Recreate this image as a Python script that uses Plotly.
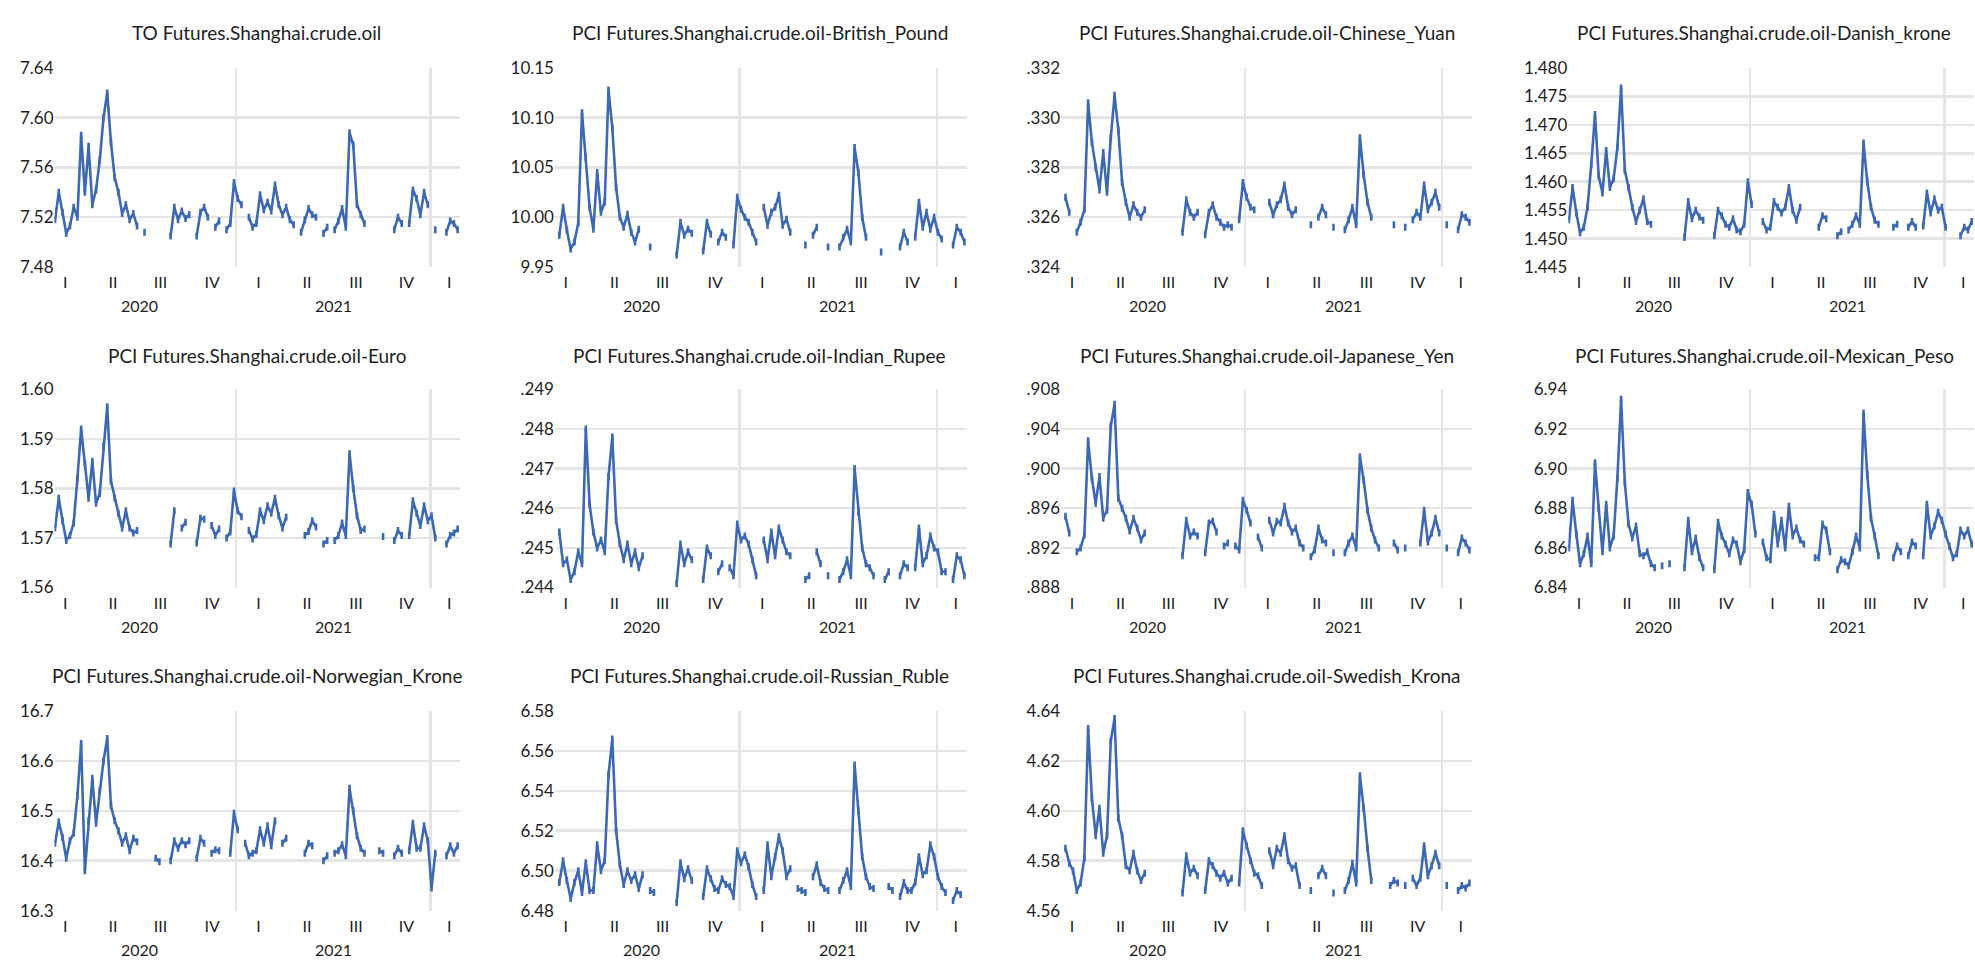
import pandas as pd
import plotly.graph_objects as go

N = None
dates = pd.date_range("2020-01-27", periods=109, freq="7D").strftime("%Y-%m-%d").tolist()

quarter_ticks = ["2020-02-15", "2020-05-15", "2020-08-12", "2020-11-17",
                 "2021-02-12", "2021-05-14", "2021-08-14", "2021-11-17", "2022-02-05"]
quarter_labels = ["I", "II", "III", "IV", "I", "II", "III", "IV", "I"]
year_bounds = ["2021-01-01", "2022-01-01"]
year_labels = ["2020", "2021"]
year_label_pos = ["2020-07-04", "2021-07-02"]

to_cny = [7.518, 7.540, 7.524, 7.507, 7.513, 7.528, 7.520, 7.586, 7.540, 7.577,
          7.530, 7.542, 7.566, 7.600, 7.620, 7.580, 7.552, 7.540, 7.523, 7.530,
          7.518, 7.523, 7.513, N, 7.508, N, N, N, N, N,
          N, 7.505, 7.528, 7.518, 7.525, 7.519, 7.522, N, 7.505, 7.524,
          7.528, 7.520, N, 7.512, 7.517, N, 7.510, 7.515, 7.548, 7.535,
          7.530, N, 7.520, 7.512, 7.515, 7.538, 7.526, 7.532, 7.525, 7.546,
          7.530, 7.522, 7.528, 7.518, 7.514, N, 7.508, 7.518, 7.527, 7.522,
          7.520, N, 7.507, 7.512, N, 7.510, 7.517, 7.527, 7.512, 7.588,
          7.578, 7.530, 7.522, 7.515, N, N, N, N, N, N,
          N, 7.510, 7.520, 7.515, N, 7.515, 7.542, 7.535, 7.522, 7.540,
          7.530, N, 7.510, N, N, 7.508, 7.517, 7.515, 7.510]

gbp = [N, 9.982, 10.010, 9.987, 9.968, 9.975, 9.994, 10.105, 10.060, 10.010,
       9.988, 10.045, 10.005, 10.015, 10.128, 10.090, 10.030, 10.000, 9.990, 10.003,
       9.985, 9.975, 9.988, N, N, 9.970, N, N, N, N,
       N, N, 9.962, 9.995, 9.982, 9.988, 9.984, N, N, 9.966,
       9.995, 9.983, N, 9.975, 9.985, 9.980, N, 9.972, 10.020, 10.008,
       10.000, 9.995, 9.985, 9.975, N, 10.010, 9.992, 10.005, 10.010, 10.022,
       9.992, 9.998, 9.985, N, N, N, 9.972, N, 9.982, 9.990,
       N, N, 9.970, N, N, 9.970, 9.980, 9.988, 9.975, 10.070,
       10.045, 10.000, 9.980, N, N, N, 9.965, N, N, N,
       N, 9.970, 9.985, 9.975, N, 9.980, 10.015, 9.990, 10.005, 9.988,
       10.000, 9.985, 9.978, N, N, 9.972, 9.990, 9.985, 9.975]

cny = [N, .3268, .3262, N, .3254, .3258, .3263, .3306, .3290, .3280,
       .3271, .3286, .3270, .3292, .3309, .3295, .3274, .3266, .3260, .3265,
       .3262, .3260, .3263, N, N, N, N, N, N, N,
       N, N, .3254, .3267, .3262, .3260, .3262, N, .3253, .3262,
       .3265, .3260, .3258, .3256, .3257, .3256, N, .3259, .3274, .3268,
       .3264, .3263, N, N, N, .3266, .3261, .3265, .3267, .3273,
       .3264, .3261, .3263, N, N, N, .3257, N, .3260, .3264,
       .3261, N, .3256, N, N, .3255, .3259, .3264, .3257, .3292,
       .3277, .3266, .3260, N, N, N, N, N, .3257, N,
       N, .3256, N, .3259, .3262, .3260, .3273, .3263, .3266, .3270,
       .3264, N, .3257, N, N, .3255, .3261, .3260, .3258]

dkk = [1.4533, 1.4590, 1.4545, 1.4510, 1.4520, 1.4555, 1.4630, 1.4718, 1.4610, 1.4580,
       1.4655, 1.4590, 1.4605, 1.4660, 1.4765, 1.4620, 1.4590, 1.4555, 1.4530, 1.4550,
       1.4570, 1.4530, 1.4525, N, N, N, N, N, N, N,
       N, 1.4502, 1.4565, 1.4535, 1.4550, 1.4538, 1.4532, N, N, 1.4505,
       1.4550, 1.4540, 1.4525, 1.4520, 1.4535, 1.4515, 1.4512, 1.4525, 1.4600, 1.4560,
       N, N, 1.4530, 1.4515, 1.4520, 1.4565, 1.4555, 1.4545, 1.4555, 1.4590,
       1.4550, 1.4532, 1.4555, N, N, N, N, 1.4520, 1.4540, 1.4535,
       N, N, 1.4505, 1.4512, N, 1.4515, 1.4525, 1.4540, 1.4525, 1.4668,
       1.4600, 1.4555, 1.4532, 1.4525, N, N, N, 1.4520, 1.4525, N,
       N, 1.4520, 1.4530, 1.4520, N, 1.4522, 1.4580, 1.4545, 1.4570, 1.4550,
       1.4555, 1.4520, N, N, N, 1.4505, 1.4520, 1.4515, 1.4530]

eur = [1.5720, 1.5780, 1.5735, 1.5695, 1.5705, 1.5730, 1.5820, 1.5920, 1.5850, 1.5780,
       1.5855, 1.5770, 1.5790, 1.5885, 1.5965, 1.5815, 1.5780, 1.5750, 1.5720, 1.5755,
       1.5720, 1.5710, 1.5715, N, N, N, N, N, N, N,
       N, 1.5688, 1.5755, N, 1.5720, 1.5732, N, N, 1.5690, 1.5740,
       1.5738, N, 1.5725, 1.5705, 1.5718, N, 1.5700, 1.5712, 1.5795, 1.5755,
       1.5743, N, 1.5715, 1.5698, 1.5707, 1.5755, 1.5735, 1.5765, 1.5750, 1.5780,
       1.5745, 1.5720, 1.5742, N, N, N, N, 1.5705, 1.5713, 1.5735,
       1.5722, N, 1.5688, 1.5695, N, 1.5695, 1.5705, 1.5730, 1.5705, 1.5870,
       1.5800, 1.5745, 1.5715, 1.5718, N, N, N, N, 1.5703, N,
       N, 1.5695, 1.5715, 1.5705, N, 1.5705, 1.5775, 1.5750, 1.5725, 1.5765,
       1.5735, 1.5745, 1.5700, N, N, 1.5688, 1.5705, 1.5710, 1.5718]

inr = [N, .2454, .2446, .2447, .2442, .2444, .2449, .2446, .2480, .2461,
       .2454, .2450, .2452, .2449, .2468, .2478, .2457, .2451, .2447, .2451,
       .2446, .2449, .2445, .2448, N, N, N, N, N, N,
       N, N, .2441, .2451, .2446, .2449, .2447, N, N, .2442,
       .2450, .2448, N, .2444, .2446, N, .2445, .2443, .2456, .2452,
       .2453, .2451, .2447, .2443, N, .2452, .2447, .2454, .2448, .2455,
       .2452, .2449, .2448, N, N, N, .2442, .2443, N, .2449,
       .2446, N, .2443, N, N, .2442, .2444, .2447, .2443, .2470,
       .2459, .2450, .2446, .2445, .2443, N, N, .2442, .2444, N,
       N, .2443, .2446, .2445, N, .2445, .2455, .2446, .2448, .2453,
       .2450, .2449, .2444, .2444, N, .2442, .2448, .2447, .2443]

jpy = [N, .8952, .8935, N, .8916, .8920, .8933, .9028, .8990, .8965,
       .8992, .8950, .8958, .9043, .9065, .8970, .8960, .8950, .8937, .8950,
       .8940, .8928, .8935, N, N, N, N, N, N, N,
       N, N, .8912, .8948, .8932, .8936, .8932, N, .8915, .8945,
       .8947, .8936, N, .8922, .8925, N, .8922, .8918, .8968, .8958,
       .8945, N, .8931, .8920, N, .8948, .8935, .8947, .8945, .8962,
       .8945, .8936, .8940, .8925, .8920, N, .8911, .8918, .8940, .8928,
       .8925, N, .8915, N, N, .8915, .8925, .8932, .8920, .9012,
       .8988, .8958, .8940, .8928, .8920, N, N, N, .8925, .8918,
       N, .8920, N, N, N, .8925, .8958, .8926, .8935, .8950,
       .8935, N, .8920, N, N, .8915, .8930, .8925, .8918]

mxn = [6.860, 6.884, 6.867, 6.852, 6.857, 6.866, 6.852, 6.903, 6.880, 6.858,
       6.882, 6.860, 6.866, 6.895, 6.935, 6.893, 6.872, 6.865, 6.871, 6.857,
       6.856, 6.858, 6.852, 6.850, N, 6.851, N, 6.852, N, N,
       N, 6.850, 6.874, 6.858, 6.865, 6.855, 6.850, N, N, 6.849,
       6.873, 6.866, 6.862, 6.857, 6.864, 6.862, 6.853, 6.859, 6.888, 6.882,
       6.867, N, 6.863, 6.855, 6.854, 6.877, 6.862, 6.874, 6.860, 6.881,
       6.866, 6.870, 6.864, 6.862, N, N, 6.855, 6.855, 6.872, 6.869,
       6.858, N, 6.849, 6.854, 6.853, 6.851, 6.858, 6.866, 6.860, 6.928,
       6.897, 6.875, 6.866, 6.856, N, N, N, 6.855, 6.861, 6.858,
       N, 6.856, 6.863, 6.861, N, 6.856, 6.882, 6.866, 6.871, 6.878,
       6.874, 6.867, 6.861, 6.855, 6.857, 6.869, 6.866, 6.869, 6.862]

nok = [16.435, 16.478, 16.447, 16.405, 16.440, 16.455, 16.530, 16.635, 16.380, 16.480,
       16.565, 16.475, 16.540, 16.600, 16.645, 16.510, 16.480, 16.460, 16.435, 16.450,
       16.420, 16.445, 16.438, N, N, N, N, 16.405, 16.398, N,
       N, 16.400, 16.440, 16.425, 16.440, 16.432, 16.440, N, 16.405, 16.445,
       16.435, N, 16.415, 16.422, 16.420, N, N, 16.415, 16.495, 16.462,
       N, 16.435, 16.410, 16.415, 16.420, 16.462, 16.435, 16.470, 16.430, 16.480,
       N, 16.435, 16.445, N, N, N, N, 16.415, 16.435, 16.430,
       N, N, 16.400, 16.410, N, 16.415, 16.420, 16.432, 16.410, 16.545,
       16.500, 16.450, 16.425, 16.415, N, N, N, 16.420, 16.415, N,
       N, 16.410, 16.425, 16.415, N, 16.420, 16.475, 16.425, 16.425, 16.470,
       16.440, 16.345, 16.415, N, N, 16.410, 16.430, 16.415, 16.430]

rub = [N, 6.494, 6.505, 6.495, 6.486, 6.494, 6.500, 6.489, 6.504, 6.490,
       6.490, 6.513, 6.500, 6.505, 6.548, 6.566, 6.520, 6.503, 6.493, 6.500,
       6.495, 6.498, 6.491, 6.498, N, 6.490, 6.489, N, N, N,
       N, N, 6.484, 6.504, 6.496, 6.501, 6.495, N, N, 6.487,
       6.501, 6.496, 6.491, 6.490, 6.496, 6.493, 6.492, 6.487, 6.510, 6.504,
       6.508, 6.502, 6.493, 6.487, N, 6.490, 6.513, 6.497, 6.507, 6.517,
       6.510, 6.497, 6.501, N, 6.491, 6.490, 6.489, N, 6.497, 6.503,
       6.494, 6.491, 6.490, N, N, 6.490, 6.495, 6.500, 6.492, 6.553,
       6.530, 6.507, 6.497, 6.492, 6.491, N, N, N, 6.492, 6.490,
       N, 6.487, 6.494, 6.490, 6.490, 6.494, 6.507, 6.498, 6.500, 6.513,
       6.507, 6.497, 6.492, 6.489, N, 6.485, 6.490, 6.488, N]

sek = [N, 4.585, 4.579, 4.576, 4.568, 4.571, 4.581, 4.633, 4.605, 4.590,
       4.601, 4.583, 4.590, 4.628, 4.637, 4.597, 4.590, 4.578, 4.576, 4.583,
       4.576, 4.572, 4.575, N, N, N, N, N, N, N,
       N, N, 4.567, 4.582, 4.575, 4.577, 4.574, N, 4.568, 4.580,
       4.578, 4.575, 4.573, 4.575, 4.571, 4.573, N, 4.571, 4.592, 4.586,
       4.580, 4.575, 4.574, 4.570, N, 4.584, 4.578, 4.585, 4.583, 4.590,
       4.580, 4.577, 4.578, 4.570, N, N, 4.568, N, 4.574, 4.577,
       4.574, N, 4.567, N, N, 4.568, 4.572, 4.579, 4.571, 4.614,
       4.601, 4.585, 4.572, N, N, N, N, 4.570, 4.572, 4.571,
       N, 4.570, N, 4.573, 4.570, 4.573, 4.586, 4.574, 4.578, 4.583,
       4.578, N, 4.570, N, N, 4.568, 4.570, 4.569, 4.571]

titles = ["TO Futures.Shanghai.crude.oil",
          "PCI Futures.Shanghai.crude.oil-British_Pound",
          "PCI Futures.Shanghai.crude.oil-Chinese_Yuan",
          "PCI Futures.Shanghai.crude.oil-Danish_krone",
          "PCI Futures.Shanghai.crude.oil-Euro",
          "PCI Futures.Shanghai.crude.oil-Indian_Rupee",
          "PCI Futures.Shanghai.crude.oil-Japanese_Yen",
          "PCI Futures.Shanghai.crude.oil-Mexican_Peso",
          "PCI Futures.Shanghai.crude.oil-Norwegian_Krone",
          "PCI Futures.Shanghai.crude.oil-Russian_Ruble",
          "PCI Futures.Shanghai.crude.oil-Swedish_Krona"]

series = [to_cny, gbp, cny, dkk, eur, inr, jpy, mxn, nok, rub, sek]

ytick_labels = [
    ["7.48", "7.52", "7.56", "7.60", "7.64"],
    ["9.95", "10.00", "10.05", "10.10", "10.15"],
    [".324", ".326", ".328", ".330", ".332"],
    ["1.445", "1.450", "1.455", "1.460", "1.465", "1.470", "1.475", "1.480"],
    ["1.56", "1.57", "1.58", "1.59", "1.60"],
    [".244", ".245", ".246", ".247", ".248", ".249"],
    [".888", ".892", ".896", ".900", ".904", ".908"],
    ["6.84", "6.86", "6.88", "6.90", "6.92", "6.94"],
    ["16.3", "16.4", "16.5", "16.6", "16.7"],
    ["6.48", "6.50", "6.52", "6.54", "6.56", "6.58"],
    ["4.56", "4.58", "4.60", "4.62", "4.64"],
]

col_dom = [[0.0276, 0.2328], [0.2810, 0.4894], [0.5373, 0.7451], [0.7941, 0.9994]]
row_dom = [[0.7297, 0.9398], [0.3912, 0.6005], [0.0501, 0.2608]]
title_y = [0.9773, 0.6364, 0.2986]
title_x = [0.1300, 0.3846, 0.6413, 0.8933]

LINE = "#3c69b1"
GRID = "#e5e5e5"
FONT = "Lato, 'Open Sans', sans-serif"
TXT = "#1e1e1e"

fig = go.Figure()
layout = dict(
    width=1975, height=968,
    margin=dict(l=0, r=0, t=0, b=0),
    paper_bgcolor="white", plot_bgcolor="white",
    showlegend=False,
    font=dict(family=FONT, size=16, color=TXT),
)
annotations = []

for i, (title, vals, ylab) in enumerate(zip(titles, series, ytick_labels)):
    r, c = divmod(i, 4)
    sfx = "" if i == 0 else str(i + 1)
    xname, yname = "x" + sfx, "y" + sfx
    fig.add_trace(go.Scatter(
        x=dates, y=vals, xaxis=xname, yaxis=yname,
        mode="lines+markers", connectgaps=False,
        line=dict(color=LINE, width=2.6),
        marker=dict(symbol="line-ns", size=5, line=dict(color=LINE, width=2.6)),
        hoverinfo="skip",
    ))
    yvals = [float(t) for t in ylab]
    layout["xaxis" + sfx] = dict(
        domain=col_dom[c], anchor=yname, type="date",
        range=["2020-01-26", "2022-02-25"],
        tickmode="array", tickvals=quarter_ticks, ticktext=quarter_labels,
        showgrid=False, zeroline=False, showline=False, ticks="",
        tickfont=dict(family=FONT, size=16, color=TXT),
        ticklabelstandoff=4, ticklabeloverflow="allow",
        minor=dict(tickmode="array", tickvals=year_bounds, showgrid=True,
                   gridcolor=GRID, gridwidth=2.5, ticks=""),
        fixedrange=True,
    )
    layout["yaxis" + sfx] = dict(
        domain=row_dom[r], anchor=xname,
        range=[yvals[0], yvals[-1]],
        tickmode="array", tickvals=yvals, ticktext=ylab,
        showgrid=False, zeroline=False, showline=False, ticks="",
        tickfont=dict(family=FONT, size=17, color=TXT),
        ticklabeloverflow="allow",
        minor=dict(tickmode="array", tickvals=yvals[1:-1], showgrid=True,
                   gridcolor=GRID, gridwidth=2.5, ticks=""),
        fixedrange=True,
    )
    annotations.append(dict(
        text=title, xref="paper", yref="paper",
        x=title_x[c], y=title_y[r],
        xanchor="center", yanchor="middle", showarrow=False,
        font=dict(family=FONT, size=19, color=TXT),
    ))
    for yl, yp in zip(year_labels, year_label_pos):
        annotations.append(dict(
            text=yl, xref=xname, yref=yname + " domain",
            x=yp, y=-0.195, xanchor="center", yanchor="middle",
            showarrow=False, font=dict(family=FONT, size=16, color=TXT),
        ))

layout["annotations"] = annotations
fig.update_layout(**layout)
fig.write_html(
    "out.html",
    config={"displayModeBar": False, "staticPlot": True},
    post_script="document.body.style.margin='0';document.body.style.overflow='hidden';",
)
